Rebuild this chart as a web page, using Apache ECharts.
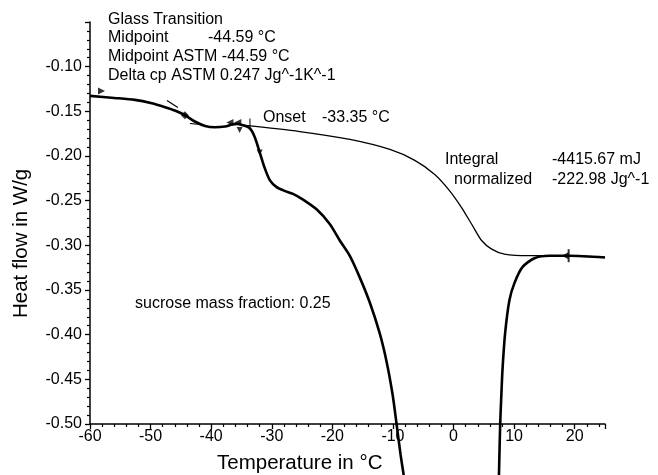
<!DOCTYPE html>
<html>
<head>
<meta charset="utf-8">
<script src="https://cdn.jsdelivr.net/npm/echarts@6/dist/echarts.min.js"></script>
<style>
  html, body { margin: 0; padding: 0; background: #fff; }
  #chart { width: 658px; height: 475px; }
</style>
</head>
<body>
<div id="chart"></div>
<script>
// DSC heating scan, sucrose mass fraction 0.25

// measured heat flow, before the melting peak (leaves the plot below -0.50)
const scanTempA = [-60.0, -56.0, -52.6, -49.8, -47.6, -46.0, -44.3, -42.7, -41.0, -39.4, -37.7, -36.6, -35.8, -34.8, -33.6, -32.8, -32.0, -31.2, -30.3, -29.2, -27.9, -26.5, -24.9, -22.6, -20.4, -18.8, -17.1, -15.5, -13.85, -12.2, -11.04, -10.05, -9.4, -8.74, -8.24, -7.75];
const scanHeatA = [-0.1327, -0.1350, -0.1372, -0.1410, -0.1454, -0.1491, -0.1544, -0.1614, -0.1664, -0.1678, -0.1670, -0.1648, -0.1640, -0.1655, -0.1692, -0.1789, -0.1957, -0.2128, -0.2273, -0.2348, -0.2390, -0.2424, -0.2485, -0.2597, -0.2764, -0.2943, -0.3121, -0.3356, -0.3635, -0.3981, -0.4305, -0.4673, -0.5000, -0.5343, -0.5566, -0.5800];

// measured heat flow, after the melting peak
const scanTempB = [7.42, 7.50, 7.70, 7.86, 8.08, 8.52, 9.23, 10.05, 11.37, 13.35, 15.82, 19.12, 25.0];
const scanHeatB = [-0.5800, -0.5566, -0.5000, -0.4729, -0.4394, -0.3981, -0.3612, -0.3423, -0.3244, -0.3144, -0.3116, -0.3116, -0.3136];

// integration baseline (sigmoidal)
const baseTemp = [-34.8, -25.4, -17.1, -10.5, -6.4, -3.1, -0.7, 1.3, 3.0, 4.6, 6.3, 8.4, 12.5, 19.1, 25.0];
const baseHeat = [-0.1655, -0.1726, -0.1815, -0.1927, -0.2049, -0.2206, -0.2384, -0.2574, -0.2764, -0.2943, -0.3043, -0.3099, -0.3116, -0.3116, -0.3134];

// evaluation limits and tangents
const tangentGlassTemp = [-47.3, -45.5];
const tangentGlassHeat = [-0.1380, -0.1458];
const tangentLowTemp = [-43.5, -41.4];
const tangentLowHeat = [-0.1636, -0.1648];
const onsetTickTemp = [-33.6, -33.6];
const onsetTickHeat = [-0.1580, -0.1685];

const midpointTemp = [-44.34];
const midpointHeat = [-0.1544];
const limitRightTemp = [-58.1];
const limitRightHeat = [-0.1305];
const limitLeftTemp = [-36.9, -35.6, 18.4];
const limitLeftHeat = [-0.1625, -0.1625, -0.3116];
const limitDownTemp = [-35.3, -32.0];
const limitDownHeat = [-0.1710, -0.1960];
const limitEndTemp = [19.0];
const limitEndHeat = [-0.3116];

// axis ticks
const xTicks = [-60, -50, -40, -30, -20, -10, 0, 10, 20];
const yTicks = [-0.50, -0.45, -0.40, -0.35, -0.30, -0.25, -0.20, -0.15, -0.10];

const pairs = (xs, ys) => xs.map((x, i) => [x, ys[i]]);

const FONT = '"Liberation Sans", Arial, sans-serif';
const chart = echarts.init(document.getElementById('chart'), null, { renderer: 'canvas' });

const lineStyleThick = { color: '#000', width: 2.6 };
const lineStyleThin = { color: '#000', width: 1.3 };
const noteFont = '16px ' + FONT;

chart.setOption({
  animation: false,
  backgroundColor: '#fff',
  grid: { left: 90, right: 53, top: 22, bottom: 51 },
  xAxis: {
    type: 'value',
    min: -60, max: 25, interval: 10,
    axisLine: { show: true, onZero: false, lineStyle: { color: '#000', width: 1.5 } },
    axisTick: { show: true, length: 5, lineStyle: { color: '#000', width: 1.3 } },
    minorTick: { show: true, splitNumber: 5, length: 3, lineStyle: { color: '#000', width: 1.2 } },
    splitLine: { show: false },
    axisLabel: {
      color: '#000', fontFamily: FONT, fontSize: 16, margin: 5,
      formatter: v => (xTicks.indexOf(v) >= 0 ? String(v) : '')
    }
  },
  yAxis: {
    type: 'value',
    min: -0.5, max: -0.05, interval: 0.05,
    axisLine: { show: true, onZero: false, lineStyle: { color: '#000', width: 1.5 } },
    axisTick: { show: true, length: 5, lineStyle: { color: '#000', width: 1.3 } },
    minorTick: { show: true, splitNumber: 5, length: 3, lineStyle: { color: '#000', width: 1.2 } },
    splitLine: { show: false },
    axisLabel: {
      color: '#000', fontFamily: FONT, fontSize: 16, margin: 8,
      formatter: v => {
        const hit = yTicks.find(t => Math.abs(t - v) < 1e-6);
        return hit === undefined ? '' : hit.toFixed(2);
      }
    }
  },
  graphic: [
    { type: 'text', x: 11, y: 318, rotation: Math.PI / 2,
      style: { text: 'Heat flow in W/g', font: '20.5px ' + FONT, fill: '#000' } },
    { type: 'text', x: 217, y: 453, style: { text: 'Temperature in °C', font: '20.5px ' + FONT, fill: '#000' } },
    { type: 'text', x: 108, y: 12, style: { text: 'Glass Transition', font: noteFont, fill: '#000' } },
    { type: 'text', x: 108, y: 30, style: { text: 'Midpoint', font: noteFont, fill: '#000' } },
    { type: 'text', x: 208, y: 30, style: { text: '-44.59 °C', font: noteFont, fill: '#000' } },
    { type: 'text', x: 108, y: 49, style: { text: 'Midpoint ASTM -44.59 °C', font: noteFont, fill: '#000' } },
    { type: 'text', x: 108, y: 68, style: { text: 'Delta cp ASTM 0.247 Jg^-1K^-1', font: noteFont, fill: '#000' } },
    { type: 'text', x: 263, y: 110, style: { text: 'Onset', font: noteFont, fill: '#000' } },
    { type: 'text', x: 322, y: 110, style: { text: '-33.35 °C', font: noteFont, fill: '#000' } },
    { type: 'text', x: 445, y: 152, style: { text: 'Integral', font: noteFont, fill: '#000' } },
    { type: 'text', x: 552, y: 152, style: { text: '-4415.67 mJ', font: noteFont, fill: '#000' } },
    { type: 'text', x: 454, y: 172, style: { text: 'normalized', font: noteFont, fill: '#000' } },
    { type: 'text', x: 552, y: 172, style: { text: '-222.98 Jg^-1', font: noteFont, fill: '#000' } },
    { type: 'text', x: 135, y: 296, style: { text: 'sucrose mass fraction: 0.25', font: noteFont, fill: '#000' } }
  ],
  series: [
    { type: 'line', data: pairs(baseTemp, baseHeat), showSymbol: false, smooth: 0.25,
      lineStyle: lineStyleThin, clip: false, z: 3 },
    { type: 'line', data: pairs(scanTempA, scanHeatA), showSymbol: false, smooth: 0.25,
      lineStyle: lineStyleThick, clip: false, z: 4 },
    { type: 'line', data: pairs(scanTempB, scanHeatB), showSymbol: false, smooth: 0.25,
      lineStyle: lineStyleThick, clip: false, z: 4 },
    { type: 'line', data: pairs(tangentGlassTemp, tangentGlassHeat), showSymbol: false,
      lineStyle: { color: '#000', width: 1.2 }, z: 4 },
    { type: 'line', data: pairs(tangentLowTemp, tangentLowHeat), showSymbol: false,
      lineStyle: { color: '#000', width: 1.2 }, z: 4 },
    { type: 'line', data: pairs(onsetTickTemp, onsetTickHeat), showSymbol: false,
      lineStyle: { color: '#000', width: 1 }, z: 4 },
    { type: 'scatter', data: pairs(midpointTemp, midpointHeat), symbol: 'diamond', symbolSize: 8,
      itemStyle: { color: '#000' }, z: 5 },
    { type: 'scatter', data: pairs(limitRightTemp, limitRightHeat), symbol: 'triangle', symbolSize: 7,
      symbolRotate: -90, symbolOffset: [0, -3], itemStyle: { color: '#000' }, z: 5 },
    { type: 'scatter', data: pairs(limitLeftTemp, limitLeftHeat), symbol: 'triangle', symbolSize: 7,
      symbolRotate: 90, itemStyle: { color: '#000' }, z: 5 },
    { type: 'scatter', data: pairs(limitDownTemp, limitDownHeat), symbol: 'triangle', symbolSize: 6,
      symbolRotate: 180, itemStyle: { color: '#000' }, z: 5 },
    { type: 'scatter', data: pairs(limitEndTemp, limitEndHeat), symbol: 'rect', symbolSize: [2, 13],
      itemStyle: { color: '#000' }, z: 5 }
  ]
});
</script>
</body>
</html>
